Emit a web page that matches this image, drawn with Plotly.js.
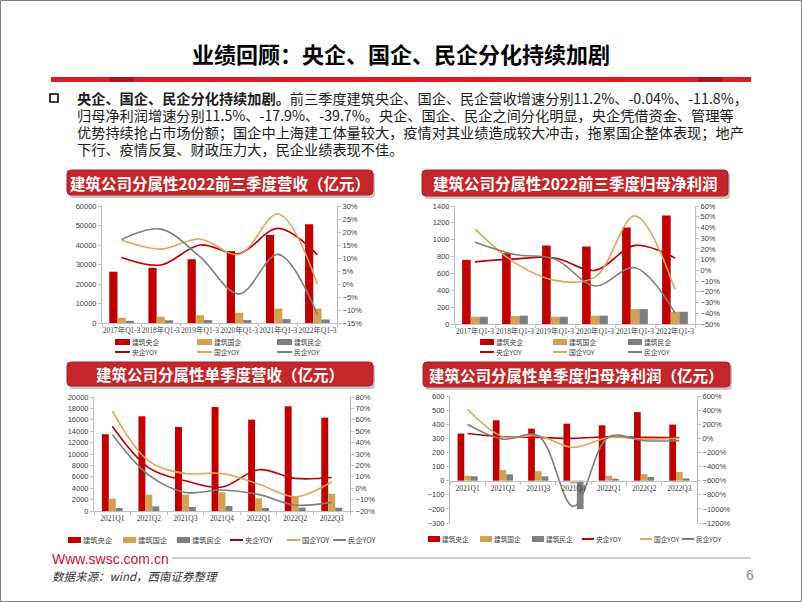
<!DOCTYPE html>
<html>
<head>
<meta charset="utf-8">
<script src="https://cdn.plot.ly/plotly-3.0.1.min.js"></script>
<style>
  body { margin: 0; background: #fff; }
  #plot { width: 802px; height: 602px; }
</style>
</head>
<body>
<div id="plot"></div>
<script>
// Categories
let yearCats = ['2017年Q1-3', '2018年Q1-3', '2019年Q1-3', '2020年Q1-3', '2021年Q1-3', '2022年Q1-3'];
let quarterCats = ['2021Q1', '2021Q2', '2021Q3', '2021Q4', '2022Q1', '2022Q2', '2022Q3'];

// Chart 1: Q1-3 revenue (亿元) and YOY (%)
let revCentral = [26300, 28300, 32700, 36900, 45100, 50700];
let revState = [2700, 3200, 4000, 5300, 7400, 7400];
let revPrivate = [1100, 1400, 1500, 1500, 2000, 1800];
let revCentralYoy = [10.2, 7.3, 15.0, 11.7, 21.4, 11.2];
let revStateYoy = [16.9, 13.4, 17.3, 11.4, 26.9, -0.04];
let revPrivateYoy = [17.1, 21.1, 10.5, -3.8, 11.4, -11.8];

// Chart 2: Q1-3 net profit (亿元) and YOY (%)
let npCentral = [761, 840, 931, 919, 1144, 1286];
let npState = [87, 95, 87, 99, 177, 145];
let npPrivate = [87, 99, 87, 99, 177, 145];
let npCentralYoy = [7.9, 10.7, 11.6, 0, 23.3, 11.5];
let npStateYoy = [38.4, 7, -9.3, -6.3, 50.8, -17.9];
let npPrivateYoy = [26.1, 14.7, 10.7, -14.6, 2.4, -39.7];

// Chart 3: quarterly revenue (亿元) and YOY (%)
let qRevCentral = [13470, 16620, 14750, 18250, 16030, 18370, 16380];
let qRevState = [2160, 2860, 2860, 3270, 2220, 2620, 3030];
let qRevPrivate = [520, 820, 700, 880, 520, 580, 580];
let qRevCentralYoy = [54.3, 17.9, 6.5, 1.0, 16.2, 8.6, 9.4];
let qRevStateYoy = [67.8, 23.7, 12.9, 12.9, 3.6, -7.5, 5.7];
let qRevPrivateYoy = [47.1, 11.5, -3.7, -1.6, -5.4, -14.8, -12.4];

// Chart 4: quarterly net profit (亿元) and YOY (%)
let qNpCentral = [334, 428, 369, 404, 392, 486, 397];
let qNpState = [35, 75, 68, -19, 35, 47, 61];
let qNpPrivate = [31, 45, 31, -202, 14, 26, 16];
let qNpCentralYoy = [69, 22, 13, 0, 22, 13, 12];
let qNpStateYoy = [412, 22, 36, -128, 13, -11, 0];
let qNpPrivateYoy = [196, -11, 36, -965, 22, -34, -34];

let barNames = ['建筑央企', '建筑国企', '建筑民企'];
let lineNames = ['央企YOY', '国企YOY', '民企YOY'];
let barColors = ['#C00000', '#D3A150', '#7F7F7F'];
let lineColors = ['#C00000', '#E3A553', '#7F7F7F'];

let cjk = 'Noto Sans CJK SC';
let W = 802, H = 602;
function px(x) { return x / W; }
function py(y) { return 1 - y / H; }

let traces = [];
let shapes = [];
let annotations = [];
let layout = {
  width: W, height: H,
  margin: {l: 0, r: 0, t: 0, b: 0},
  paper_bgcolor: '#ffffff',
  plot_bgcolor: 'rgba(0,0,0,0)',
  showlegend: false,
  barmode: 'overlay',
  font: {family: 'Liberation Sans, ' + cjk, size: 8, color: '#404040'}
};

// one combo chart: 3 bars on left axis, 3 spline lines on right axis
function addChart(n, box, cats, bars, lines, left, right, barW, zeroAxis) {
  let xid = n === 1 ? 'x' : 'x' + n;
  let li = 2 * n - 1, ri = 2 * n;
  let lid = li === 1 ? 'y' : 'y' + li;
  let rid = 'y' + ri;

  bars.forEach(function (vals, k) {
    traces.push({
      type: 'bar', x: cats, y: vals, name: barNames[k],
      xaxis: xid, yaxis: lid,
      width: barW, offset: (k - 1.5) * barW,
      marker: {color: barColors[k]}
    });
  });
  lines.forEach(function (vals, k) {
    traces.push({
      type: 'scatter', mode: 'lines', x: cats, y: vals, name: lineNames[k],
      xaxis: xid, yaxis: rid,
      line: {color: lineColors[k], width: 1.6, shape: 'spline', smoothing: 1}
    });
  });

  let xa = {
    domain: [px(box.x0), px(box.x1)], anchor: lid, type: 'category',
    showline: true, linecolor: '#BFBFBF', linewidth: 1,
    ticks: 'outside', tickson: 'boundaries', ticklen: 3, tickcolor: '#BFBFBF',
    tickangle: 0, showgrid: false,
    tickfont: {family: 'Liberation Serif, ' + cjk, size: 7.5, color: '#404040'}
  };
  if (zeroAxis) {
    let frac = (0 - left.range[0]) / (left.range[1] - left.range[0]);
    xa.anchor = 'free';
    xa.position = py(box.y1) + frac * (py(box.y0) - py(box.y1));
  }
  layout['xaxis' + (n === 1 ? '' : n)] = xa;

  let yCommon = {
    showline: true, linecolor: '#BFBFBF', ticks: 'outside', ticklen: 3,
    tickcolor: '#BFBFBF', showgrid: false, zeroline: false, tickformat: 'd',
    tickfont: {family: 'Liberation Sans', size: 7.5, color: '#404040'}
  };
  layout['yaxis' + (li === 1 ? '' : li)] = Object.assign({}, yCommon, {
    domain: [py(box.y1), py(box.y0)], anchor: xid,
    range: left.range, dtick: left.dtick
  });
  layout['yaxis' + ri] = Object.assign({}, yCommon, {
    overlaying: lid, side: 'right', anchor: xid,
    range: right.range, dtick: right.dtick, ticksuffix: '%'
  });
}

addChart(1, {x0: 102, x1: 337, y0: 206, y1: 323}, yearCats,
  [revCentral, revState, revPrivate], [revCentralYoy, revStateYoy, revPrivateYoy],
  {range: [0, 60000], dtick: 10000}, {range: [-15, 30], dtick: 5}, 0.21, false);
addChart(2, {x0: 455, x1: 695, y0: 206, y1: 324}, yearCats,
  [npCentral, npState, npPrivate], [npCentralYoy, npStateYoy, npPrivateYoy],
  {range: [0, 1400], dtick: 200}, {range: [-50, 60], dtick: 10}, 0.215, false);
addChart(3, {x0: 94, x1: 350, y0: 397, y1: 511}, quarterCats,
  [qRevCentral, qRevState, qRevPrivate], [qRevCentralYoy, qRevStateYoy, qRevPrivateYoy],
  {range: [0, 20000], dtick: 2000}, {range: [-20, 80], dtick: 10}, 0.19, false);
addChart(4, {x0: 450, x1: 697, y0: 396, y1: 523}, quarterCats,
  [qNpCentral, qNpState, qNpPrivate], [qNpCentralYoy, qNpStateYoy, qNpPrivateYoy],
  {range: [-300, 600], dtick: 100}, {range: [-1200, 600], dtick: 200}, 0.19, true);

// hand-made legends (wide swatches like the source)
function addLegend(pos, len, size) {
  let names = barNames.concat(lineNames);
  names.forEach(function (name, k) {
    let x = pos[k][0], y = pos[k][1];
    if (k < 3) {
      shapes.push({type: 'rect', xref: 'paper', yref: 'paper',
        x0: px(x), x1: px(x + len), y0: py(y + 3), y1: py(y - 3),
        fillcolor: barColors[k], line: {width: 0}});
    } else {
      shapes.push({type: 'line', xref: 'paper', yref: 'paper',
        x0: px(x), x1: px(x + len), y0: py(y), y1: py(y),
        line: {color: lineColors[k - 3], width: 2}});
    }
    annotations.push({xref: 'paper', yref: 'paper', x: px(x + len + 1), y: py(y),
      xanchor: 'left', yanchor: 'middle', text: name, showarrow: false, borderpad: 0,
      font: {family: cjk, size: size, color: '#404040'}});
  });
}
addLegend([[115, 342], [197, 342], [277, 342], [115, 352], [197, 352], [277, 352]], 15, 6.8);
addLegend([[480, 342], [553, 342], [628, 342], [480, 352], [553, 352], [628, 352]], 14, 6.8);
addLegend([[68, 540], [123, 540], [177, 540], [230, 540], [287, 540], [333, 540]], 13, 7.3);
addLegend([[428, 539], [480, 539], [532, 539], [582, 539], [640, 539], [682, 539]], 12, 6.7);

// rounded banner behind each chart title
function roundRect(x0, y0, x1, y1, r) {
  return 'M' + px(x0 + r) + ',' + py(y0) +
    ' L' + px(x1 - r) + ',' + py(y0) + ' Q' + px(x1) + ',' + py(y0) + ' ' + px(x1) + ',' + py(y0 + r) +
    ' L' + px(x1) + ',' + py(y1 - r) + ' Q' + px(x1) + ',' + py(y1) + ' ' + px(x1 - r) + ',' + py(y1) +
    ' L' + px(x0 + r) + ',' + py(y1) + ' Q' + px(x0) + ',' + py(y1) + ' ' + px(x0) + ',' + py(y1 - r) +
    ' L' + px(x0) + ',' + py(y0 + r) + ' Q' + px(x0) + ',' + py(y0) + ' ' + px(x0 + r) + ',' + py(y0) + ' Z';
}
let banners = [
  {x0: 67, x1: 373, y0: 170, y1: 195, text: '建筑公司分属性2022前三季度营收（亿元）'},
  {x0: 422, x1: 728, y0: 170, y1: 196, text: '建筑公司分属性2022前三季度归母净利润'},
  {x0: 67, x1: 373, y0: 362, y1: 386, text: '建筑公司分属性单季度营收（亿元）'},
  {x0: 423, x1: 730, y0: 362, y1: 387, text: '建筑公司分属性单季度归母净利润（亿元）'}
];
banners.forEach(function (b) {
  shapes.push({type: 'path', xref: 'paper', yref: 'paper', layer: 'below',
    path: roundRect(b.x0 + 2, b.y0 + 2, b.x1 + 2, b.y1 + 3, 4),
    fillcolor: 'rgba(0,0,0,0.22)', line: {width: 0}});
  shapes.push({type: 'path', xref: 'paper', yref: 'paper', layer: 'below',
    path: roundRect(b.x0, b.y0, b.x1, b.y1, 4),
    fillcolor: '#C3272B', line: {color: '#A81E22', width: 1}});
  annotations.push({xref: 'paper', yref: 'paper', x: px((b.x0 + b.x1) / 2), y: py((b.y0 + b.y1) / 2),
    xanchor: 'center', yanchor: 'middle', showarrow: false, text: '<b>' + b.text + '</b>',
    font: {family: cjk, size: 15.5, color: '#ffffff'}});
});

// page title and red rule
annotations.push({xref: 'paper', yref: 'paper', x: px(401), y: py(53), xanchor: 'center', yanchor: 'middle',
  showarrow: false, text: '<b>业绩回顾：央企、国企、民企分化持续加剧</b>',
  font: {family: cjk, size: 22, color: '#000000'}});
shapes.push({type: 'rect', xref: 'paper', yref: 'paper', x0: px(51), x1: px(751), y0: py(82), y1: py(77),
  fillcolor: '#D71E25', line: {width: 0}});
shapes.push({type: 'rect', xref: 'paper', yref: 'paper', x0: px(110), x1: px(134), y0: py(82), y1: py(77),
  fillcolor: '#A51A1E', line: {width: 0}});
shapes.push({type: 'rect', xref: 'paper', yref: 'paper', x0: px(698), x1: px(722), y0: py(82), y1: py(77),
  fillcolor: '#A51A1E', line: {width: 0}});

// bullet paragraph
shapes.push({type: 'rect', xref: 'paper', yref: 'paper', x0: px(50), x1: px(58), y0: py(102), y1: py(94),
  fillcolor: '#ffffff', line: {color: '#000000', width: 1.6}});
let paraLines = [
  '<b>央企、国企、民企分化持续加剧。</b>前三季度建筑央企、国企、民企营收增速分别11.2%、-0.04%、-11.8%，',
  '归母净利润增速分别11.5%、-17.9%、-39.7%。央企、国企、民企之间分化明显，央企凭借资金、管理等',
  '优势持续抢占市场份额；国企中上海建工体量较大，疫情对其业绩造成较大冲击，拖累国企整体表现；地产',
  '下行、疫情反复、财政压力大，民企业绩表现不佳。'
];
let paraY = [98, 115, 132, 149];
paraLines.forEach(function (t, k) {
  annotations.push({xref: 'paper', yref: 'paper', x: px(75), y: py(paraY[k]), xanchor: 'left', yanchor: 'middle',
    showarrow: false, text: t, font: {family: cjk, size: 14.2, color: '#1a1a1a'}});
});

// footer
annotations.push({xref: 'paper', yref: 'paper', x: px(50), y: py(559), xanchor: 'left', yanchor: 'middle',
  showarrow: false, text: 'Www.swsc.com.cn', font: {family: 'Liberation Sans', size: 14, color: '#C8102E'}});
shapes.push({type: 'line', xref: 'paper', yref: 'paper', x0: px(172), x1: px(751), y0: py(558), y1: py(558),
  line: {color: '#BDBDBD', width: 1.5}});
annotations.push({xref: 'paper', yref: 'paper', x: px(50), y: py(576), xanchor: 'left', yanchor: 'middle',
  showarrow: false, text: '数据来源：wind，西南证券整理',
  font: {family: cjk, size: 11.5, color: '#333333', style: 'italic'}});
annotations.push({xref: 'paper', yref: 'paper', x: px(750), y: py(575), xanchor: 'center', yanchor: 'middle',
  showarrow: false, text: '6', font: {family: 'Liberation Sans', size: 14, color: '#8C8C8C'}});

// slide frame
shapes.push({type: 'rect', xref: 'paper', yref: 'paper', x0: px(0.5), x1: px(801.5), y0: py(601.5), y1: py(0.5),
  line: {color: '#7F7F7F', width: 1}});

layout.shapes = shapes;
layout.annotations = annotations;

Plotly.newPlot('plot', traces, layout, {displayModeBar: false, staticPlot: true});
</script>
</body>
</html>
